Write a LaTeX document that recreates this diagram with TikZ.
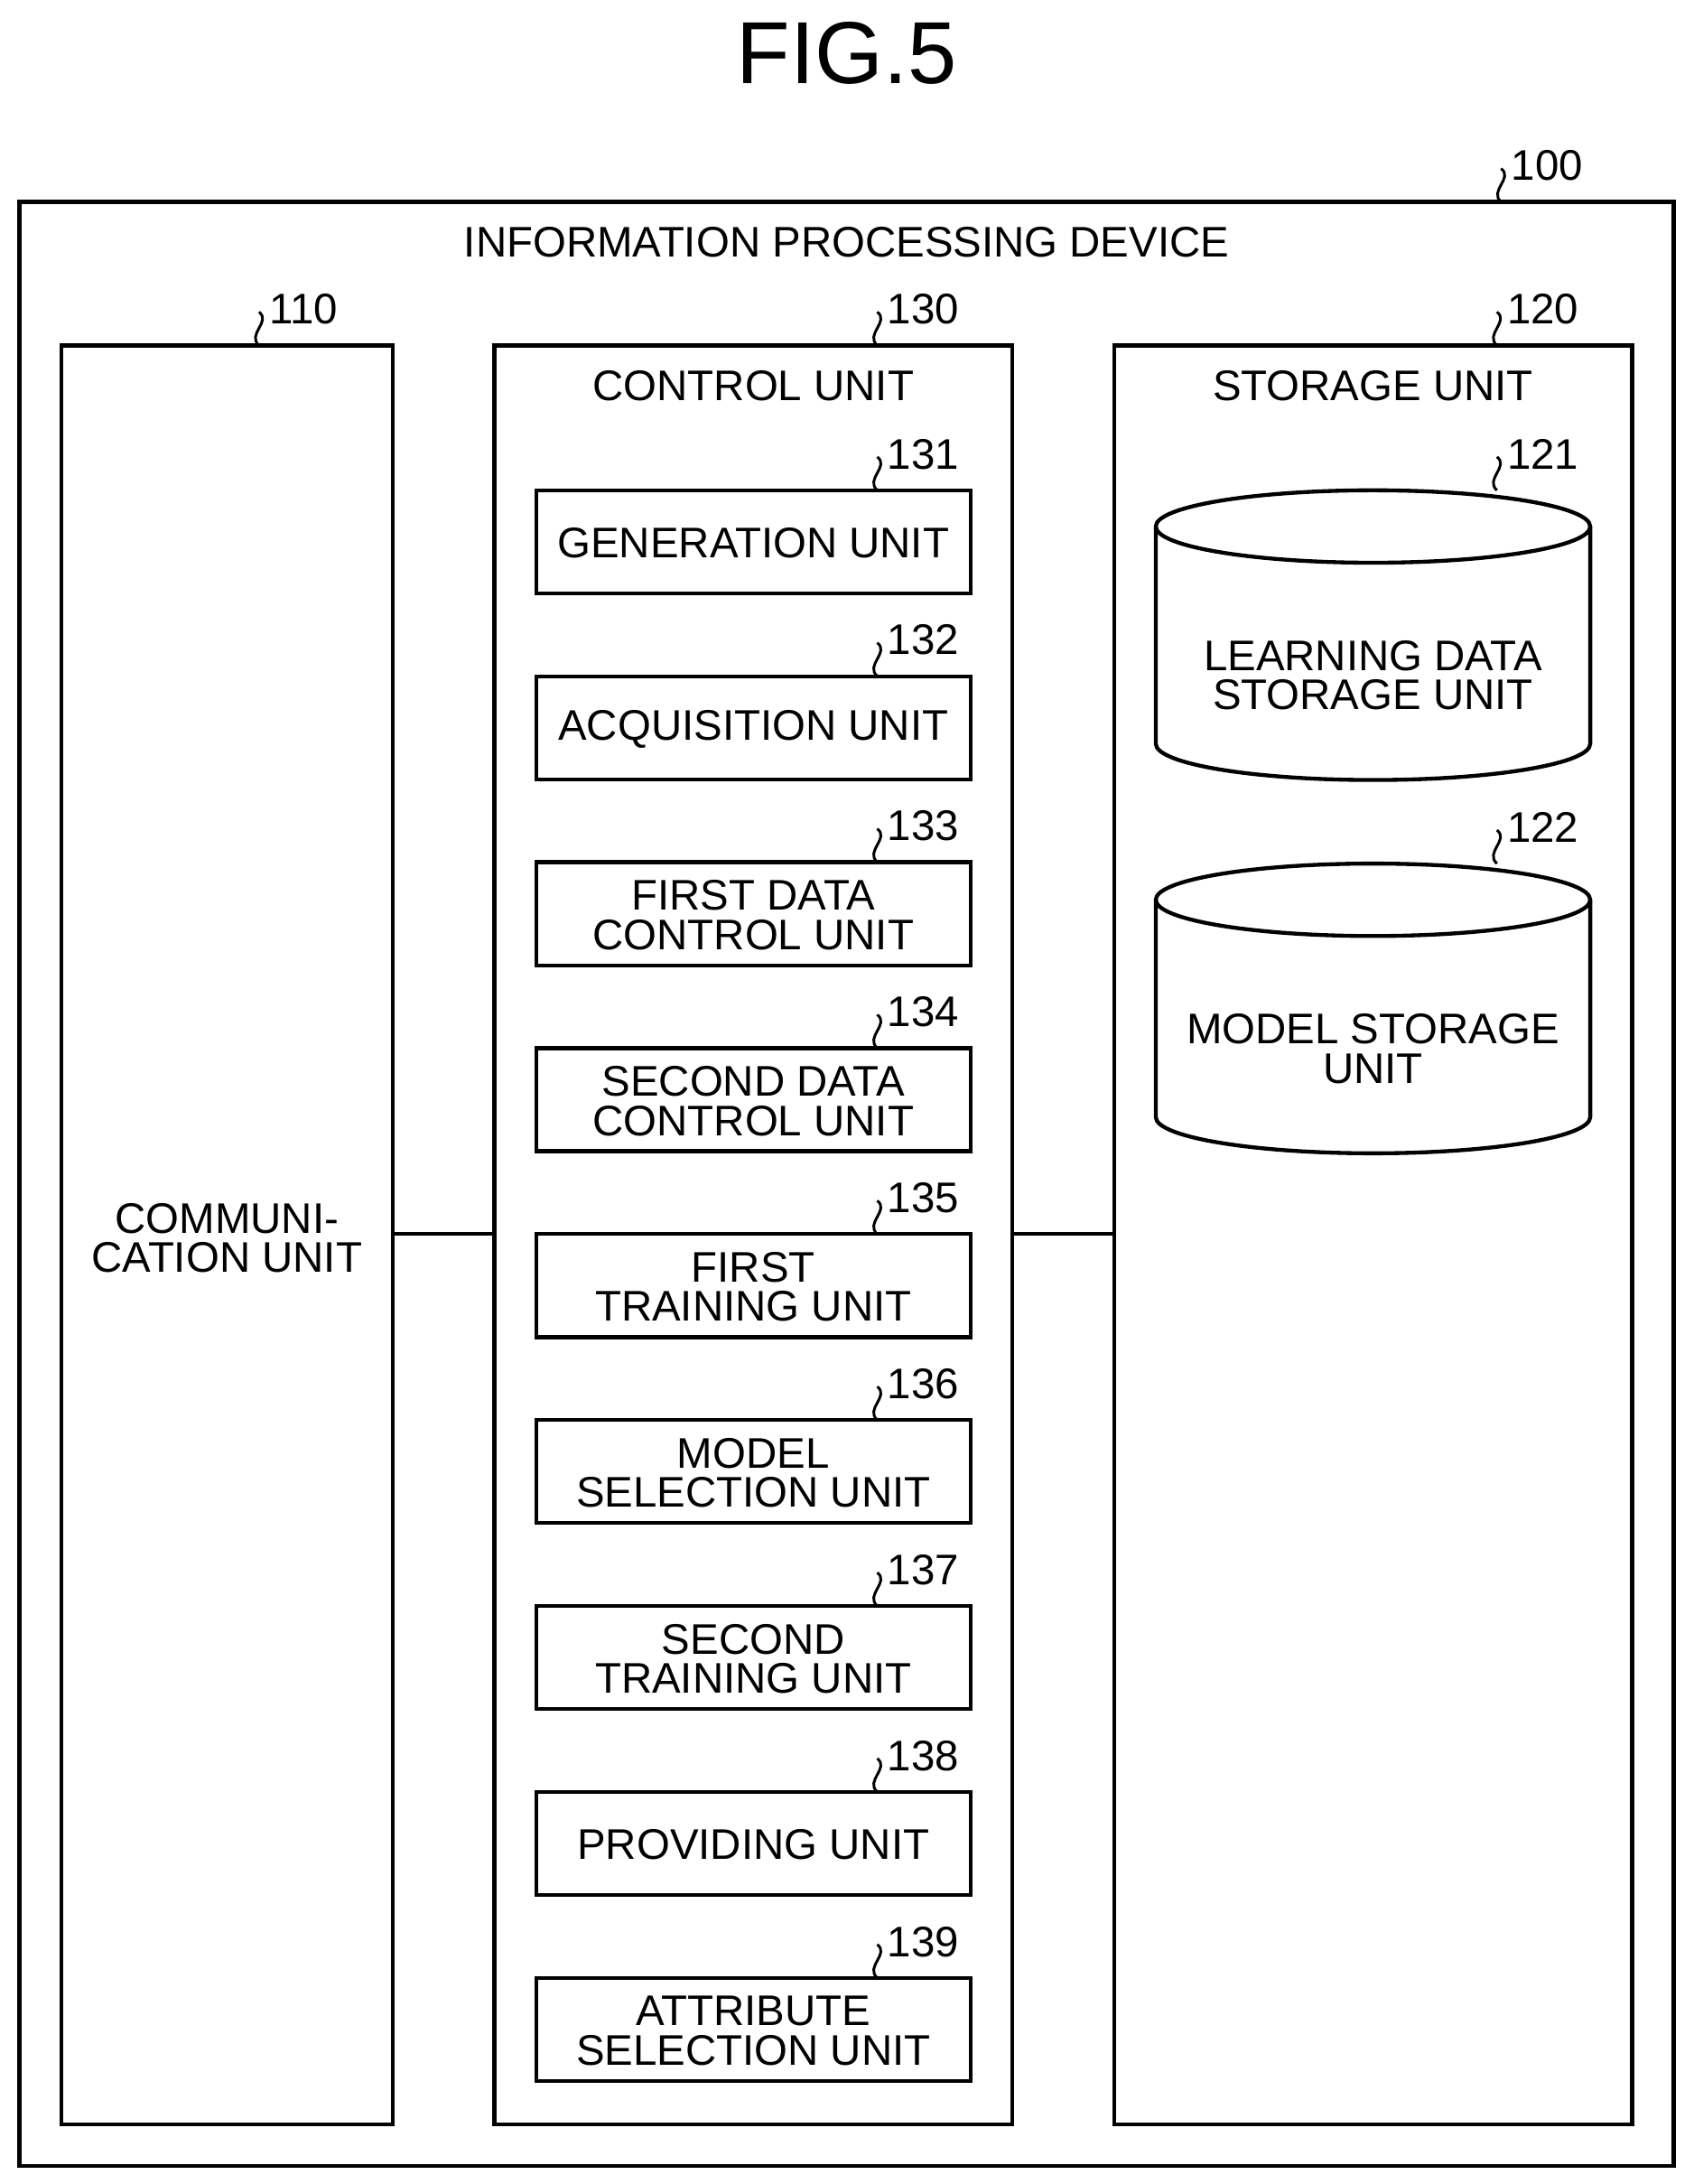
\documentclass[tikz,border=0pt]{standalone}
\usepackage{fontspec}
\setmainfont{Liberation Sans}
\begin{document}
\begin{tikzpicture}[x=0.02cm,y=-0.02cm,line width=1.6pt,
  box/.style={draw},
  txt/.style={font=\fontsize{17.5}{16}\selectfont,align=center,inner sep=0},
  num/.style={font=\fontsize{17.5}{18}\selectfont,anchor=west,inner sep=0},
  sq/.style={line width=1.1pt}]
\useasboundingbox (0,0) rectangle (1216,1568);
\newcommand{\refmark}[4]{\draw[sq] (#1,#2) .. controls +(-9,-8) and +(9,7) .. ++(0,-24) coordinate (#4);
  \node[num] at (#1+6,#2-26) {#3};}
\node[font=\fontsize{36}{36}\selectfont,inner sep=0] (title) at (608,38) {FIG.5};
\draw[box] (14,145) rectangle (1202,1555);
\refmark{1078}{145}{100}{m100}
\node[txt] (ipd) at (608,174) {INFORMATION PROCESSING DEVICE};
% columns
\draw[box] (44,248) rectangle (282,1525);
\refmark{186}{248}{110}{m110}
\node[txt] (comm) at (163,889) {COMMUNI-\\CATION UNIT};
\draw[box] (355,248) rectangle (727,1525);
\refmark{630}{248}{130}{m130}
\node[txt] (ctrl) at (541,277) {CONTROL UNIT};
\draw[box] (800,248) rectangle (1172,1525);
\refmark{1075}{248}{120}{m120}
\node[txt] (stor) at (986,277) {STORAGE UNIT};
\coordinate (c1) at (282,886); \coordinate (c2) at (355,886);
\coordinate (c3) at (727,886); \coordinate (c4) at (800,886);
\draw (c1) -- (c2); \draw (c3) -- (c4);
% inner units
\foreach \i/\t/\n in {0/{GENERATION UNIT}/131,1/{ACQUISITION UNIT}/132,2/{FIRST DATA\\CONTROL UNIT}/133,
 3/{SECOND DATA\\CONTROL UNIT}/134,4/{FIRST\\TRAINING UNIT}/135,5/{MODEL\\SELECTION UNIT}/136,
 6/{SECOND\\TRAINING UNIT}/137,7/{PROVIDING UNIT}/138,8/{ATTRIBUTE\\SELECTION UNIT}/139}{
  \pgfmathsetmacro{\yt}{352+133.5*\i}
  \draw[box] (385,\yt) rectangle (697,\yt+74);
  \node[txt] (u\n) at (541,\yt+38) {\t};
  \refmark{630}{\yt}{\n}{m\n}
}
% cylinders
\foreach \yt/\t/\n in {352/{LEARNING DATA\\STORAGE UNIT}/121,620/{MODEL STORAGE\\UNIT}/122}{
  \draw[fill=white] (830,\yt+26) -- (830,\yt+182) arc[start angle=180,end angle=360,x radius=156,y radius=-26]
     -- (1142,\yt+26) arc[start angle=0,end angle=180,x radius=156,y radius=-26] -- cycle;
  \draw (830,\yt+26) arc[start angle=180,end angle=360,x radius=156,y radius=-26];
  \node[txt] (s\n) at (986,\yt+133) {\t};
  \refmark{1075}{\yt}{\n}{m\n}
}
\end{tikzpicture}
\end{document}
